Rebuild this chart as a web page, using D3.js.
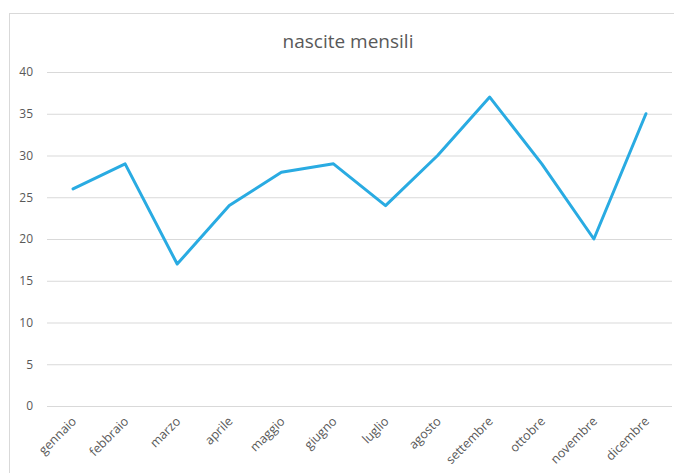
<!DOCTYPE html>
<html>
<head>
<meta charset="utf-8">
<script src="https://cdn.jsdelivr.net/npm/d3@7"></script>
<style>
  body { margin: 0; background: #fff; }
  svg { display: block; font-family: "Open Sans", sans-serif; }
</style>
</head>
<body>
<svg id="chart" width="674" height="473"></svg>
<script>
// dati
const mesi = ["gennaio", "febbraio", "marzo", "aprile", "maggio", "giugno",
  "luglio", "agosto", "settembre", "ottobre", "novembre", "dicembre"];
const nascite = [26, 29, 17, 24, 28, 29, 24, 30, 37, 29, 20, 35];
const yTicks = [0, 5, 10, 15, 20, 25, 30, 35, 40];
const titolo = "nascite mensili";

const svg = d3.select("#chart");

// cornice dell'area del grafico
svg.append("rect")
  .attr("x", 9.5).attr("y", 13.5)
  .attr("width", 700).attr("height", 500)
  .attr("fill", "none")
  .attr("stroke", "#d9d9d9");

const mLeft = 47, mRight = 672, mTop = 72, mBottom = 406;

const x = d3.scaleBand().domain(mesi).range([mLeft, mRight]);
const y = d3.scaleLinear().domain([0, 40]).range([mBottom, mTop]);

svg.append("text")
  .attr("x", 348).attr("y", 48)
  .attr("text-anchor", "middle")
  .attr("fill", "#595959")
  .attr("font-size", 19)
  .text(titolo);

// griglia e asse y
const yAxis = svg.append("g")
  .attr("transform", `translate(${mLeft},0)`)
  .call(d3.axisLeft(y).tickValues(yTicks).tickSize(-(mRight - mLeft)).tickPadding(14));
yAxis.select(".domain").remove();
yAxis.selectAll(".tick line").attr("stroke", "#d9d9d9").attr("stroke-width", 1);
yAxis.selectAll(".tick text")
  .attr("fill", "#595959")
  .attr("font-size", 12)
  .attr("font-family", "Open Sans, sans-serif");

// asse x
const xAxis = svg.append("g")
  .attr("transform", `translate(0,${mBottom})`)
  .call(d3.axisBottom(x).tickSize(0));
xAxis.select(".domain").remove();
xAxis.selectAll(".tick text")
  .attr("fill", "#595959")
  .attr("font-size", 12.5)
  .attr("font-family", "Open Sans, sans-serif")
  .attr("text-anchor", "end")
  .attr("dy", 0)
  .attr("transform", "translate(2,14) rotate(-45)");

const line = d3.line()
  .x((d, i) => x(mesi[i]) + x.bandwidth() / 2)
  .y(d => y(d));

svg.append("path")
  .datum(nascite)
  .attr("fill", "none")
  .attr("stroke", "#29abe2")
  .attr("stroke-width", 3)
  .attr("stroke-linejoin", "round")
  .attr("stroke-linecap", "round")
  .attr("d", line);
</script>
</body>
</html>
